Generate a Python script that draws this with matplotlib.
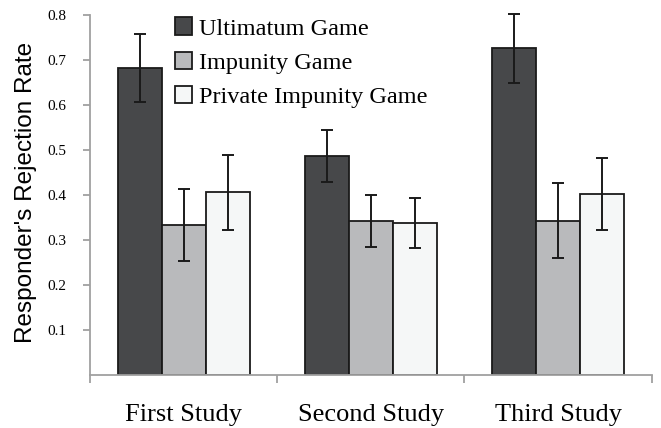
import numpy as np
import matplotlib.pyplot as plt

# values
studies = ['First Study', 'Second Study', 'Third Study']
games = ['Ultimatum Game', 'Impunity Game', 'Private Impunity Game']
ultimatum = [0.682, 0.486, 0.726]
impunity = [0.333, 0.342, 0.343]
private = [0.406, 0.337, 0.403]
ultimatum_err = [0.076, 0.058, 0.077]
impunity_err = [0.080, 0.057, 0.084]
private_err = [0.083, 0.056, 0.080]

colors = ['#47484a', '#b9babc', '#f5f7f7']
serif = 'Liberation Serif'

fig = plt.figure(figsize=(6.61, 4.28), dpi=100)
ax = fig.add_axes([0.136, 0.124, 0.850, 0.841])

x = np.arange(len(studies))
w = 0.235
series = [(ultimatum, ultimatum_err), (impunity, impunity_err), (private, private_err)]
for i, (vals, errs) in enumerate(series):
    ax.bar(x + (i - 1) * w, vals, w, color=colors[i], edgecolor='#1a1a1a',
           linewidth=1.3, label=games[i], zorder=2)
    eb = ax.errorbar(x + (i - 1) * w, vals, yerr=errs, fmt='none', ecolor='#1a1a1a',
                     elinewidth=1.4, capsize=4.5, capthick=1.4, zorder=3)
    for art in eb.lines[1] + eb.lines[2]:
        art.set_clip_on(False)

ax.set_xlim(-0.5, 2.5)
ax.set_ylim(0, 0.8)
ax.set_yticks([0.1, 0.2, 0.3, 0.4, 0.5, 0.6, 0.7, 0.8])
ax.set_yticklabels(['0.1', '0.2', '0.3', '0.4', '0.5', '0.6', '0.7', '0.8'],
                   family=serif, fontsize=11)
ax.set_xticks(x)
ax.set_xticklabels(studies, family=serif, fontsize=19)
ax.set_xticks([-0.5, 0.5, 1.5, 2.5], minor=True)
ax.tick_params(axis='x', which='major', length=0, pad=21)
ax.tick_params(axis='x', which='minor', length=6, width=1.3, color='#a0a0a0')
ax.tick_params(axis='y', length=5, width=1.3, color='#a0a0a0', pad=12)

for side in ['top', 'right']:
    ax.spines[side].set_visible(False)
for side in ['left', 'bottom']:
    ax.spines[side].set_color('#a0a0a0')
    ax.spines[side].set_linewidth(1.3)

ax.set_ylabel("Responder's Rejection Rate", family='Liberation Sans', fontsize=17.5)
ax.yaxis.set_label_coords(-0.095, 0.506)

ax.legend(loc='upper left', bbox_to_anchor=(0.151, 0.993), frameon=False,
          prop={'family': serif, 'size': 17.5}, handlelength=0.7, handleheight=0.7,
          handletextpad=0.3, labelspacing=0.5, borderaxespad=0, borderpad=0)

fig.savefig('out.png', dpi=100)
